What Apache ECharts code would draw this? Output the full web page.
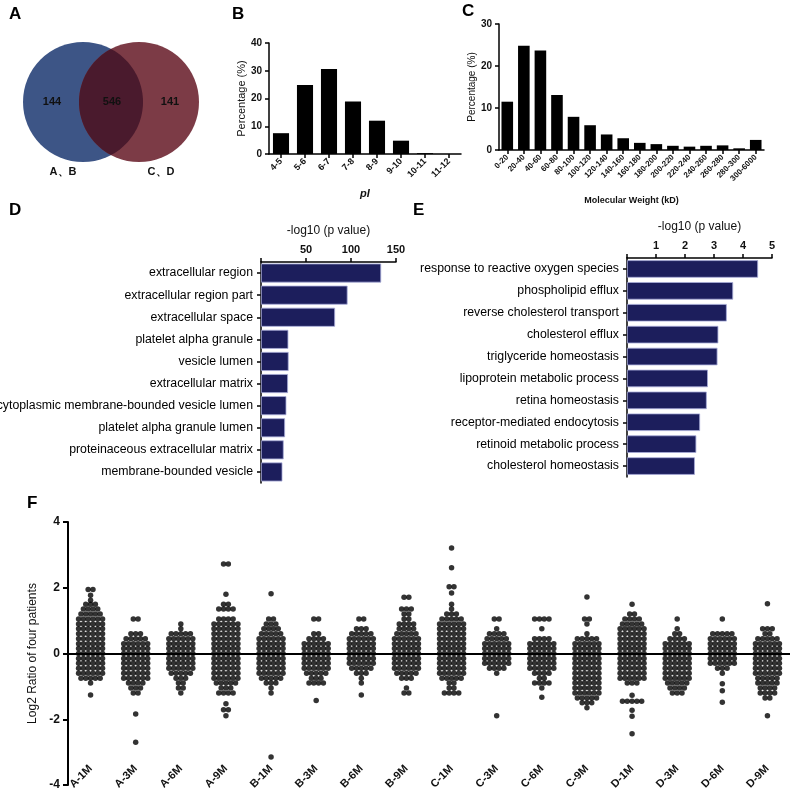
<!DOCTYPE html>
<html><head><meta charset="utf-8">
<script src="https://cdn.jsdelivr.net/npm/echarts@6/dist/echarts.min.js"></script>
<style>html,body{margin:0;padding:0;background:#fff}#c{width:792px;height:792px}</style>
</head><body><div id="c"></div>
<script>
// ---------- Panel A (Venn) ----------
const vennSets = ['A、B', 'C、D'];
const vennCounts = [144, 546, 141]; // only first, shared, only second

// ---------- Panel B (pI) ----------
const piCategories = ['4-5','5-6','6-7','7-8','8-9','9-10','10-11','11-12'];
const piPercent = [7.5, 24.9, 30.6, 18.9, 12.0, 4.8, 0.3, 0];

// ---------- Panel C (MW) ----------
const mwCategories = ['0-20','20-40','40-60','60-80','80-100','100-120','120-140','140-160','160-180','180-200','200-220','220-240','240-260','260-280','280-300','300-6000'];
const mwPercent = [11.5, 24.8, 23.7, 13.1, 7.9, 5.9, 3.7, 2.8, 1.7, 1.4, 1.0, 0.8, 1.0, 1.1, 0.4, 2.4];

// ---------- Panel D (cellular component) ----------
const ccTerms = ['extracellular region','extracellular region part','extracellular space','platelet alpha granule','vesicle lumen','extracellular matrix','cytoplasmic membrane-bounded vesicle lumen','platelet alpha granule lumen','proteinaceous extracellular matrix','membrane-bounded vesicle'];
const ccValues = [133.5, 96.2, 82.3, 30.4, 30.7, 30.0, 28.2, 26.7, 25.2, 23.8];

// ---------- Panel E (biological process) ----------
const bpTerms = ['response to reactive oxygen species','phospholipid efflux','reverse cholesterol transport','cholesterol efflux','triglyceride homeostasis','lipoprotein metabolic process','retina homeostasis','receptor-mediated endocytosis','retinoid metabolic process','cholesterol homeostasis'];
const bpValues = [4.52, 3.66, 3.44, 3.15, 3.12, 2.79, 2.75, 2.52, 2.39, 2.34];

// ---------- Panel F (log2 ratio swarm) ----------
const sampleNames = ['A-1M','A-3M','A-6M','A-9M','B-1M','B-3M','B-6M','B-9M','C-1M','C-3M','C-6M','C-9M','D-1M','D-3M','D-6M','D-9M'];
// dot rows (log2 ratio level) and number of proteins drawn in each row
const swarmLevels = [-1.65,-1.5,-1.35,-1.2,-1.05,-0.9,-0.75,-0.6,-0.45,-0.3,-0.15,0,0.15,0.3,0.45,0.6,0.75,0.9,1.05,1.2,1.35,1.5];
const countsA1M = [0,0,0,0,0,1,5,6,6,6,6,6,6,6,6,6,6,6,6,5,4,3];
const countsA3M = [0,0,0,2,3,4,6,6,6,6,6,6,6,6,5,3,0,0,2,0,0,0];
const countsA6M = [0,0,0,1,2,2,3,5,6,6,6,6,6,6,6,5,1,1,0,0,0,0];
const countsA9M = [0,0,0,4,3,5,6,6,6,6,6,6,6,6,6,6,6,6,4,0,4,2];
const countsB1M = [0,0,0,1,1,3,5,6,6,6,6,6,6,6,6,5,4,3,2,0,0,0];
const countsB3M = [0,0,0,0,0,4,3,5,6,6,6,6,6,6,4,2,0,0,2,0,0,0];
const countsB6M = [0,0,0,0,0,1,1,3,5,6,6,6,6,6,6,5,3,0,2,0,0,0];
const countsB9M = [0,0,0,2,1,0,3,5,6,6,6,6,6,6,6,5,4,4,2,2,3,0];
const countsC1M = [0,0,0,4,2,2,5,6,6,6,6,6,6,6,6,6,6,6,5,3,1,1];
const countsC3M = [0,0,0,0,0,0,0,1,4,6,6,6,6,6,5,4,1,0,2,0,0,0];
const countsC6M = [0,0,0,0,1,4,2,4,6,6,6,6,6,6,4,0,1,0,4,0,0,0];
const countsC9M = [1,3,5,6,6,6,6,6,6,6,6,6,6,6,5,1,0,1,2,0,0,0];
const countsD1M = [0,0,0,0,0,3,6,6,6,6,6,6,6,6,6,6,6,5,4,2,0,1];
const countsD3M = [0,0,0,3,4,5,6,6,6,6,6,6,6,6,4,2,1,0,1,0,0,0];
const countsD6M = [0,0,0,0,0,0,0,1,3,6,6,6,6,6,6,5,0,0,1,0,0,0];
const countsD9M = [0,0,2,4,4,5,5,6,6,6,6,6,6,6,5,2,3,0,0,0,0,0];
// isolated proteins: [log2 ratio, number of dots side by side]
const extraA1M = [[1.95,2],[1.77,1],[1.62,1],[-1.26,1]];
const extraA3M = [[-1.84,1],[-2.7,1]];
const extraA6M = [];
const extraA9M = [[2.72,2],[1.8,1],[-1.53,1],[-1.71,2],[-1.89,1]];
const extraB1M = [[1.82,1],[-3.15,1]];
const extraB3M = [[-1.43,1]];
const extraB6M = [[-1.26,1]];
const extraB9M = [[1.71,2]];
const extraC1M = [[3.21,1],[2.61,1],[2.03,2],[1.84,1]];
const extraC3M = [[-1.89,1]];
const extraC6M = [[-1.33,1]];
const extraC9M = [[1.72,1]];
const extraD1M = [[-1.27,1],[-1.45,5],[-1.73,1],[-1.91,1],[-2.44,1]];
const extraD3M = [];
const extraD6M = [[-0.92,1],[-1.13,1],[-1.48,1]];
const extraD9M = [[1.51,1],[-1.89,1]];

const swarmCounts = [countsA1M,countsA3M,countsA6M,countsA9M,countsB1M,countsB3M,countsB6M,countsB9M,countsC1M,countsC3M,countsC6M,countsC9M,countsD1M,countsD3M,countsD6M,countsD9M];
const swarmExtras = [extraA1M,extraA3M,extraA6M,extraA9M,extraB1M,extraB3M,extraB6M,extraB9M,extraC1M,extraC3M,extraC6M,extraC9M,extraD1M,extraD3M,extraD6M,extraD9M];

// ---------- layout ----------
const FONT = 'Liberation Sans, Arial, Helvetica, sans-serif';
const INK = '#111';
const gB = {left:269, top:43, width:192, height:111};
const gC = {left:499, top:24, width:265, height:126};
const gD = {left:261, top:262, width:135, height:221};
const gE = {left:627, top:258, width:145, height:219};
const gF = {left:68, top:522, width:722, height:263};

// beeswarm layout: spread dots of a row horizontally around the group centre
const dotStepPx = 4.8;
const dx = dotStepPx / (gF.width / sampleNames.length);
const swarmData = [];
sampleNames.forEach((name, g) => {
  const rows = [];
  swarmLevels.forEach((y, i) => { if (swarmCounts[g][i] > 0) rows.push([y, swarmCounts[g][i]]); });
  swarmExtras[g].forEach(r => rows.push(r));
  rows.forEach(([y, n]) => {
    for (let j = 0; j < n; j++) swarmData.push([g + (j - (n - 1) / 2) * dx, y]);
  });
});

const lineBlack = (w) => ({show:true, onZero:false, lineStyle:{color:'#000', width:w}});
const tickBlack = (w, len) => ({show:true, length:len, lineStyle:{color:'#000', width:w}});
const lbl = (size, weight, extra) => Object.assign({color:INK, fontSize:size, fontWeight:weight, fontFamily:FONT}, extra || {});

// Venn geometry: two equal circles, overlap lens outlined by the two arcs
const venn = {cx:111, cy:102, r:60, d:56};
const lensPoints = [];
(function () {
  const half = Math.acos((venn.d / 2) / venn.r);
  const steps = 60;
  const cL = venn.cx - venn.d / 2, cR = venn.cx + venn.d / 2;
  for (let i = 0; i <= steps; i++) {           // right side of left circle
    const a = -half + (2 * half) * i / steps;
    lensPoints.push([cL + venn.r * Math.cos(a), venn.cy + venn.r * Math.sin(a)]);
  }
  for (let i = 0; i <= steps; i++) {           // left side of right circle
    const a = Math.PI - half + (2 * half) * i / steps;
    lensPoints.push([cR + venn.r * Math.cos(a), venn.cy + venn.r * Math.sin(a)]);
  }
})();

const letter = (t, x, y) => ({type:'text', left:x, top:y, style:{text:t, font:'bold 17px ' + FONT, fill:'#000'}});
const vtext = (t, x, y, size, weight) => ({type:'text', x:x, y:y, style:{text:String(t), fill:INK, font:(weight||'normal') + ' ' + size + 'px ' + FONT, align:'center', verticalAlign:'middle'}});

const chart = echarts.init(document.getElementById('c'), null, {renderer:'canvas'});
const option = {
  animation:false,
  backgroundColor:'#fff',
  textStyle:{fontFamily:FONT},
  grid:[gB, gC, gD, gE, gF].map(g => Object.assign({containLabel:false, outerBoundsMode:'none'}, g)),
  xAxis:[
    {gridIndex:0, type:'category', data:piCategories, boundaryGap:true,
     axisLine:lineBlack(1.5), axisTick:Object.assign(tickBlack(1.5,4),{alignWithLabel:true}),
     axisLabel:lbl(9,'bold',{rotate:45, interval:0, margin:6}),
     name:'pI', nameLocation:'middle', nameGap:34, nameTextStyle:lbl(11,'bold',{fontStyle:'italic'})},
    {gridIndex:1, type:'category', data:mwCategories, boundaryGap:true,
     axisLine:lineBlack(1.5), axisTick:Object.assign(tickBlack(1.5,4),{alignWithLabel:true}),
     axisLabel:lbl(8,'bold',{rotate:45, interval:0, margin:6}),
     name:'Molecular Weight (kD)', nameLocation:'middle', nameGap:46, nameTextStyle:lbl(9,'bold')},
    {gridIndex:2, type:'value', position:'top', min:0, max:150, interval:50,
     axisLine:lineBlack(1.5), axisTick:tickBlack(1.5,4), splitLine:{show:false},
     axisLabel:lbl(11,'bold',{margin:7, formatter:v => v === 0 ? '' : v}),
     name:'-log10 (p value)', nameLocation:'middle', nameGap:25, nameTextStyle:lbl(12,'normal')},
    {gridIndex:3, type:'value', position:'top', min:0, max:5, interval:1,
     axisLine:lineBlack(1.5), axisTick:tickBlack(1.5,4), splitLine:{show:false},
     axisLabel:lbl(11,'bold',{margin:7, formatter:v => v === 0 ? '' : v}),
     name:'-log10 (p value)', nameLocation:'middle', nameGap:25, nameTextStyle:lbl(12,'normal')},
    {gridIndex:4, type:'category', data:sampleNames, boundaryGap:true, position:'bottom',
     axisLine:{show:false, onZero:false}, axisTick:{show:false},
     axisLabel:lbl(11,'bold',{rotate:45, interval:0, margin:-18})},
    {gridIndex:4, type:'value', min:-0.5, max:15.5, position:'top', show:false, splitLine:{show:false},
     axisLine:{show:false, onZero:false}}
  ],
  yAxis:[
    {gridIndex:0, type:'value', min:0, max:40, interval:10, splitLine:{show:false},
     axisLine:lineBlack(1.5), axisTick:tickBlack(1.5,4), axisLabel:lbl(10,'bold',{margin:7}),
     name:'Percentage (%)', nameLocation:'middle', nameGap:22, nameTextStyle:lbl(11,'normal')},
    {gridIndex:1, type:'value', min:0, max:30, interval:10, splitLine:{show:false},
     axisLine:lineBlack(1.5), axisTick:tickBlack(1.5,4), axisLabel:lbl(10,'bold',{margin:7}),
     name:'Percentage (%)', nameLocation:'middle', nameGap:22, nameTextStyle:lbl(10,'normal')},
    {gridIndex:2, type:'category', data:ccTerms, inverse:true, boundaryGap:true,
     axisLine:lineBlack(1.5), axisTick:Object.assign(tickBlack(1.5,4),{alignWithLabel:true}),
     axisLabel:lbl(12.3,'normal',{interval:0, margin:8, color:'#000'})},
    {gridIndex:3, type:'category', data:bpTerms, inverse:true, boundaryGap:true,
     axisLine:lineBlack(1.5), axisTick:Object.assign(tickBlack(1.5,4),{alignWithLabel:true}),
     axisLabel:lbl(12.3,'normal',{interval:0, margin:8, color:'#000'})},
    {gridIndex:4, type:'value', min:-4, max:4, interval:2, splitLine:{show:false},
     axisLine:lineBlack(2), axisTick:tickBlack(2,5), axisLabel:lbl(12,'bold',{margin:8}),
     name:'Log2 Ratio of four patients', nameLocation:'middle', nameGap:24, nameTextStyle:lbl(12,'normal')}
  ],
  series:[
    {type:'bar', xAxisIndex:0, yAxisIndex:0, data:piPercent, barCategoryGap:'33%',
     itemStyle:{color:'#000'}},
    {type:'bar', xAxisIndex:1, yAxisIndex:1, data:mwPercent, barCategoryGap:'30%',
     itemStyle:{color:'#000'}},
    {type:'bar', xAxisIndex:2, yAxisIndex:2, data:ccValues, barCategoryGap:'14%',
     itemStyle:{color:'#1c1e5c', borderColor:'#a7abd8', borderWidth:0.8}},
    {type:'bar', xAxisIndex:3, yAxisIndex:3, data:bpValues, barCategoryGap:'20%',
     itemStyle:{color:'#1c1e5c', borderColor:'#a7abd8', borderWidth:0.8}},
    {type:'scatter', xAxisIndex:5, yAxisIndex:4, data:swarmData, symbol:'circle', symbolSize:5.5,
     itemStyle:{color:'#000'}, silent:true,
     markLine:{silent:true, symbol:'none', label:{show:false},
       lineStyle:{color:'#000', width:2, type:'solid'}, data:[{yAxis:0}]}}
  ],
  graphic:[
    {type:'circle', shape:{cx:venn.cx - venn.d/2, cy:venn.cy, r:venn.r}, style:{fill:'#3d5586'}},
    {type:'circle', shape:{cx:venn.cx + venn.d/2, cy:venn.cy, r:venn.r}, style:{fill:'#7c3b46'}},
    {type:'polygon', shape:{points:lensPoints}, style:{fill:'#4a1a2d'}},
    vtext(vennCounts[0], 52, 102, 11, 'bold'),
    vtext(vennCounts[1], 112, 102, 11, 'bold'),
    vtext(vennCounts[2], 170, 102, 11, 'bold'),
    vtext(vennSets[0], 63, 172, 11, 'bold'),
    vtext(vennSets[1], 161, 172, 11, 'bold'),
    letter('A', 9, 6), letter('B', 232, 6), letter('C', 462, 3),
    letter('D', 9, 202), letter('E', 413, 202), letter('F', 27, 495)
  ]
};
chart.setOption(option);
</script>
</body></html>
